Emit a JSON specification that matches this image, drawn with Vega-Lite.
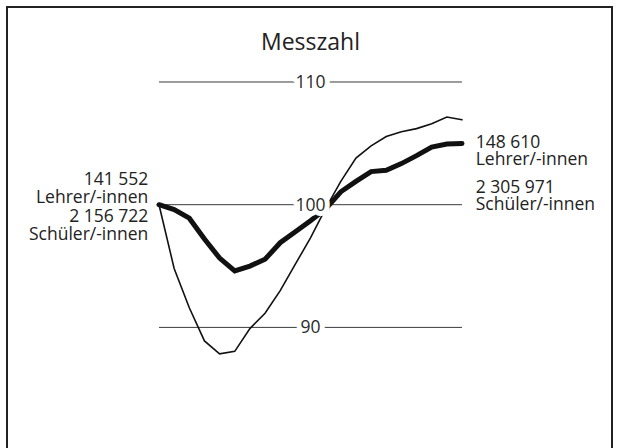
{
  "$schema": "https://vega.github.io/schema/vega-lite/v6.json",
  "width": 605,
  "height": 445,
  "autosize": {"type": "none"},
  "padding": {"left": 7, "top": 7, "right": 7, "bottom": 0},
  "background": "white",
  "config": {
    "view": {"stroke": "#222", "strokeWidth": 2},
    "font": "Open Sans",
    "text": {"font": "Open Sans", "color": "#222"}
  },
  "datasets": {
    "series": [
      {"t": 0, "series": "Lehrer/-innen", "v": 100},
      {"t": 1, "series": "Lehrer/-innen", "v": 99.6},
      {"t": 2, "series": "Lehrer/-innen", "v": 98.9},
      {"t": 3, "series": "Lehrer/-innen", "v": 97.2},
      {"t": 4, "series": "Lehrer/-innen", "v": 95.65},
      {"t": 5, "series": "Lehrer/-innen", "v": 94.6},
      {"t": 6, "series": "Lehrer/-innen", "v": 95.0},
      {"t": 7, "series": "Lehrer/-innen", "v": 95.55},
      {"t": 8, "series": "Lehrer/-innen", "v": 96.9},
      {"t": 9, "series": "Lehrer/-innen", "v": 97.8},
      {"t": 10, "series": "Lehrer/-innen", "v": 98.7},
      {"t": 11, "series": "Lehrer/-innen", "v": 99.65},
      {"t": 12, "series": "Lehrer/-innen", "v": 101.05},
      {"t": 13, "series": "Lehrer/-innen", "v": 101.9},
      {"t": 14, "series": "Lehrer/-innen", "v": 102.7},
      {"t": 15, "series": "Lehrer/-innen", "v": 102.8},
      {"t": 16, "series": "Lehrer/-innen", "v": 103.35},
      {"t": 17, "series": "Lehrer/-innen", "v": 104.0},
      {"t": 18, "series": "Lehrer/-innen", "v": 104.7},
      {"t": 19, "series": "Lehrer/-innen", "v": 104.95},
      {"t": 20, "series": "Lehrer/-innen", "v": 104.99},
      {"t": 0, "series": "Schüler/-innen", "v": 100},
      {"t": 1, "series": "Schüler/-innen", "v": 94.8},
      {"t": 2, "series": "Schüler/-innen", "v": 91.6},
      {"t": 3, "series": "Schüler/-innen", "v": 88.9},
      {"t": 4, "series": "Schüler/-innen", "v": 87.85},
      {"t": 5, "series": "Schüler/-innen", "v": 88.05},
      {"t": 6, "series": "Schüler/-innen", "v": 89.9},
      {"t": 7, "series": "Schüler/-innen", "v": 91.15},
      {"t": 8, "series": "Schüler/-innen", "v": 93.0},
      {"t": 9, "series": "Schüler/-innen", "v": 95.15},
      {"t": 10, "series": "Schüler/-innen", "v": 97.3},
      {"t": 11, "series": "Schüler/-innen", "v": 99.7},
      {"t": 12, "series": "Schüler/-innen", "v": 101.9},
      {"t": 13, "series": "Schüler/-innen", "v": 103.8},
      {"t": 14, "series": "Schüler/-innen", "v": 104.8},
      {"t": 15, "series": "Schüler/-innen", "v": 105.55},
      {"t": 16, "series": "Schüler/-innen", "v": 105.95},
      {"t": 17, "series": "Schüler/-innen", "v": 106.2},
      {"t": 18, "series": "Schüler/-innen", "v": 106.6},
      {"t": 19, "series": "Schüler/-innen", "v": 107.15},
      {"t": 20, "series": "Schüler/-innen", "v": 106.92}
    ],
    "refs": [{"v": 110}, {"v": 100}, {"v": 90}]
  },
  "layer": [
    {
      "data": {"name": "refs"},
      "mark": {"type": "rule", "color": "#3a3a3a", "strokeWidth": 1},
      "encoding": {
        "x": {"datum": 0, "type": "quantitative", "scale": {"domain": [-10.033, 29.901], "nice": false, "zero": false}, "axis": null},
        "x2": {"datum": 20},
        "y": {"field": "v", "type": "quantitative", "scale": {"domain": [79.845, 116.112], "nice": false, "zero": false}, "axis": null}
      }
    },
    {
      "data": {"name": "series"},
      "mark": {"type": "line", "color": "#111", "strokeCap": "round"},
      "encoding": {
        "x": {"field": "t", "type": "quantitative", "scale": {"domain": [-10.033, 29.901], "nice": false, "zero": false}, "axis": null},
        "y": {"field": "v", "type": "quantitative", "scale": {"domain": [79.845, 116.112], "nice": false, "zero": false}, "axis": null},
        "detail": {"field": "series"},
        "strokeWidth": {"field": "series", "type": "nominal", "scale": {"domain": ["Lehrer/-innen", "Schüler/-innen"], "range": [5, 1.6]}, "legend": null},
        "order": {"field": "t"}
      }
    },
    {
      "data": {"name": "refs"},
      "mark": {"type": "text", "fontSize": 17.5, "baseline": "middle", "dy": 1, "fill": "white", "stroke": "white", "strokeWidth": 10, "strokeJoin": "round"},
      "encoding": {
        "x": {"datum": 10, "type": "quantitative"},
        "y": {"field": "v", "type": "quantitative"},
        "text": {"field": "v", "type": "quantitative"}
      }
    },
    {
      "data": {"name": "refs"},
      "mark": {"type": "text", "fontSize": 17.5, "baseline": "middle", "dy": 1, "color": "#2a2a2a"},
      "encoding": {
        "x": {"datum": 10, "type": "quantitative"},
        "y": {"field": "v", "type": "quantitative"},
        "text": {"field": "v", "type": "quantitative"}
      }
    },
    {
      "data": {"values": [{"t": 0, "v": 100, "label": ["141 552", "Lehrer/-innen", "2 156 722", "Schüler/-innen"]}]},
      "mark": {"type": "text", "fontSize": 17.5, "align": "right", "baseline": "alphabetic", "dx": -10.7, "dy": -19.7, "lineHeight": 18.4},
      "encoding": {
        "x": {"field": "t", "type": "quantitative"},
        "y": {"field": "v", "type": "quantitative"},
        "text": {"field": "label"}
      }
    },
    {
      "data": {"values": [{"t": 20, "v": 104.99, "label": ["148 610", "Lehrer/-innen"]}]},
      "mark": {"type": "text", "fontSize": 17.5, "align": "left", "baseline": "alphabetic", "dx": 13.7, "dy": 4.8, "lineHeight": 16.9},
      "encoding": {
        "x": {"field": "t", "type": "quantitative"},
        "y": {"field": "v", "type": "quantitative"},
        "text": {"field": "label"}
      }
    },
    {
      "data": {"values": [{"t": 20, "v": 106.92, "label": ["2 305 971", "Schüler/-innen"]}]},
      "mark": {"type": "text", "fontSize": 17.5, "align": "left", "baseline": "alphabetic", "dx": 13.7, "dy": 73.5, "lineHeight": 16.9},
      "encoding": {
        "x": {"field": "t", "type": "quantitative"},
        "y": {"field": "v", "type": "quantitative"},
        "text": {"field": "label"}
      }
    },
    {
      "data": {"values": [{"t": 10, "v": 112.6, "label": "Messzahl"}]},
      "mark": {"type": "text", "fontSize": 23, "align": "center", "baseline": "alphabetic"},
      "encoding": {
        "x": {"field": "t", "type": "quantitative"},
        "y": {"field": "v", "type": "quantitative"},
        "text": {"field": "label"}
      }
    }
  ]
}
